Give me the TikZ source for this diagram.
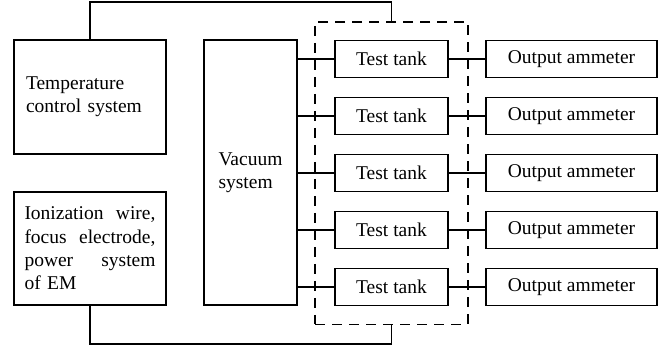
\documentclass[tikz,border=0pt]{standalone}
\usepackage{fontspec}
\setmainfont{Liberation Serif}
\usetikzlibrary{fit}

\begin{document}
\begin{tikzpicture}[x=1pt,y=-1pt,line width=1.6pt,
    box/.style={draw,inner sep=0pt,font=\fontsize{19.5}{23.4}\selectfont},
    tankbox/.style={box,minimum width=113pt,minimum height=37pt},
    meterbox/.style={box,minimum width=171pt,minimum height=37pt}]
\useasboundingbox (0,0) rectangle (667,346);
\node[box,minimum width=152pt,minimum height=114pt,text width=128pt,align=left] (temp) at (90,97) {Temperature\\control system};
\node[box,minimum width=152pt,minimum height=113pt,text width=131pt,align=left] (ion) at (90,248.5)
    {Ionization\hfill wire,\\ focus\hfill electrode,\\ power\hfill system\\ of EM};
\node[box,minimum width=93pt,minimum height=265pt,align=left] (vac) at (250.5,172.5) {Vacuum\\system};
\foreach \i/\y in {1/59,2/116,3/173,4/230,5/287}{
    \node[tankbox] (tank\i) at (391.5,\y) {Test tank};
    \node[meterbox] (meter\i) at (571.5,\y) {Output ammeter};
    \draw (vac.east |- tank\i.west) -- (tank\i.west);
    \draw (tank\i.east) -- (meter\i.west);
}
\node[draw,dash pattern=on 10pt off 7pt,inner xsep=19pt,inner ysep=18pt,fit=(tank1)(tank5)] (group) {};
\draw (temp.north) -- ++(0,-37) -| (group.north);
\draw (ion.south) -- ++(0,38) -| (group.south);
\end{tikzpicture}
\end{document}
